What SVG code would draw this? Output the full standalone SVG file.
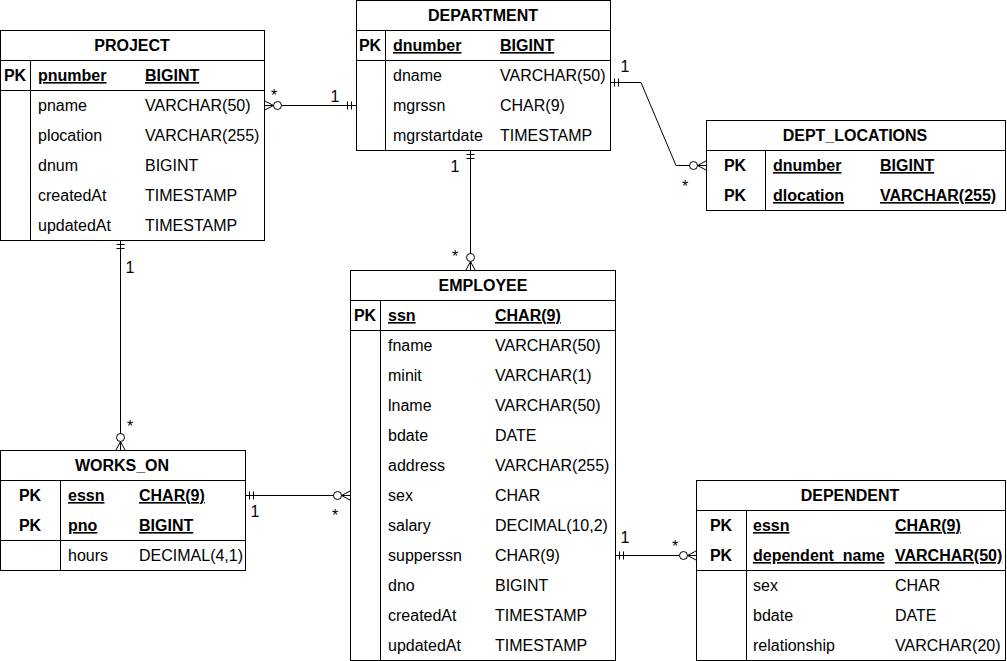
<svg xmlns="http://www.w3.org/2000/svg" width="1007" height="661" viewBox="0 0 1007 661">
<style>
.box{fill:#fff;stroke:#000;stroke-width:1}
.ln{stroke:#000;stroke-width:1;fill:none}
.t{font-family:"Liberation Sans",Arial,sans-serif;font-size:16px;fill:#000}
.b{font-weight:bold}
.h{font-weight:bold;text-anchor:middle}
.c{text-anchor:middle}
.u{text-decoration:underline}
.conn{stroke:#000;stroke-width:1;fill:none;marker-start:url(#one);marker-end:url(#many)}
</style>
<defs>
<marker id="many" markerUnits="userSpaceOnUse" orient="auto-start-reverse" refX="0" refY="0" markerWidth="30" markerHeight="30" viewBox="-20 -10 30 20" overflow="visible">
<path d="M0,-4.5 L-8.5,0 L0,4.5 M0,0 L-8.5,0" fill="none" stroke="#000" stroke-width="1"/>
<circle cx="-12.5" cy="0" r="4" fill="#fff" stroke="#000" stroke-width="1"/>
</marker>
<marker id="one" markerUnits="userSpaceOnUse" orient="auto-start-reverse" refX="0" refY="0" markerWidth="30" markerHeight="30" viewBox="-20 -10 30 20" overflow="visible">
<path d="M-4.5,-4 V4 M-8.5,-4 V4" fill="none" stroke="#000" stroke-width="1"/>
</marker>
</defs>
<rect width="1007" height="661" fill="#fff"/>

<g id="connectors">
<path class="conn" d="M356,105.5 H265"/>
<path class="conn" d="M610,82.5 H641 L676,165.5 H706"/>
<path class="conn" d="M470.5,150 V270"/>
<path class="conn" d="M120.5,240 V450"/>
<path class="conn" d="M245,495.5 H350"/>
<path class="conn" d="M615,555.5 H696"/>
<g class="t">
<text x="271" y="101">*</text><text x="330.5" y="102">1</text>
<text x="620.5" y="72">1</text><text x="682" y="192">*</text>
<text x="450.5" y="172">1</text><text x="452" y="262">*</text>
<text x="125.5" y="273">1</text><text x="127" y="432">*</text>
<text x="250.5" y="517">1</text><text x="332" y="521">*</text>
<text x="620.5" y="543">1</text><text x="672" y="552">*</text>
</g>
</g>

<g id="project">
<rect class="box" x="0.5" y="30.5" width="264" height="210"/>
<path class="ln" d="M0,60.5 H265 M0,90.5 H265 M30.5,60 V240"/>
<g class="t">
<text class="h" x="132" y="51">PROJECT</text>
<text class="b c" x="15" y="81">PK</text>
<text class="b u" x="38" y="81">pnumber</text><text class="b u" x="145" y="81">BIGINT</text>
<text x="38" y="111">pname</text><text x="145" y="111">VARCHAR(50)</text>
<text x="38" y="141">plocation</text><text x="145" y="141">VARCHAR(255)</text>
<text x="38" y="171">dnum</text><text x="145" y="171">BIGINT</text>
<text x="38" y="201">createdAt</text><text x="145" y="201">TIMESTAMP</text>
<text x="38" y="231">updatedAt</text><text x="145" y="231">TIMESTAMP</text>
</g>
</g>

<g id="department">
<rect class="box" x="356.5" y="0.5" width="254" height="150"/>
<path class="ln" d="M356,30.5 H611 M356,60.5 H611 M385.5,30 V150"/>
<g class="t">
<text class="h" x="483" y="21">DEPARTMENT</text>
<text class="b c" x="370" y="51">PK</text>
<text class="b u" x="393" y="51">dnumber</text><text class="b u" x="500" y="51">BIGINT</text>
<text x="393" y="81">dname</text><text x="500" y="81">VARCHAR(50)</text>
<text x="393" y="111">mgrssn</text><text x="500" y="111">CHAR(9)</text>
<text x="393" y="141">mgrstartdate</text><text x="500" y="141">TIMESTAMP</text>
</g>
</g>

<g id="dept_locations">
<rect class="box" x="706.5" y="120.5" width="299" height="90"/>
<path class="ln" d="M706,150.5 H1006 M765.5,150 V210"/>
<g class="t">
<text class="h" x="855" y="141">DEPT_LOCATIONS</text>
<text class="b c" x="735" y="171">PK</text>
<text class="b u" x="773" y="171">dnumber</text><text class="b u" x="880" y="171">BIGINT</text>
<text class="b c" x="735" y="201">PK</text>
<text class="b u" x="773" y="201">dlocation</text><text class="b u" x="880" y="201">VARCHAR(255)</text>
</g>
</g>

<g id="employee">
<rect class="box" x="350.5" y="270.5" width="265" height="390"/>
<path class="ln" d="M350,300.5 H616 M350,330.5 H616 M380.5,300 V660"/>
<g class="t">
<text class="h" x="483" y="291">EMPLOYEE</text>
<text class="b c" x="365" y="321">PK</text>
<text class="b u" x="388" y="321">ssn</text><text class="b u" x="495" y="321">CHAR(9)</text>
<text x="388" y="351">fname</text><text x="495" y="351">VARCHAR(50)</text>
<text x="388" y="381">minit</text><text x="495" y="381">VARCHAR(1)</text>
<text x="388" y="411">lname</text><text x="495" y="411">VARCHAR(50)</text>
<text x="388" y="441">bdate</text><text x="495" y="441">DATE</text>
<text x="388" y="471">address</text><text x="495" y="471">VARCHAR(255)</text>
<text x="388" y="501">sex</text><text x="495" y="501">CHAR</text>
<text x="388" y="531">salary</text><text x="495" y="531">DECIMAL(10,2)</text>
<text x="388" y="561">supperssn</text><text x="495" y="561">CHAR(9)</text>
<text x="388" y="591">dno</text><text x="495" y="591">BIGINT</text>
<text x="388" y="621">createdAt</text><text x="495" y="621">TIMESTAMP</text>
<text x="388" y="651">updatedAt</text><text x="495" y="651">TIMESTAMP</text>
</g>
</g>

<g id="works_on">
<rect class="box" x="0.5" y="450.5" width="245" height="120"/>
<path class="ln" d="M0,480.5 H246 M0,540.5 H246 M60.5,480 V570"/>
<g class="t">
<text class="h" x="122" y="471">WORKS_ON</text>
<text class="b c" x="30" y="501">PK</text>
<text class="b u" x="68" y="501">essn</text><text class="b u" x="139" y="501">CHAR(9)</text>
<text class="b c" x="30" y="531">PK</text>
<text class="b u" x="68" y="531">pno</text><text class="b u" x="139" y="531">BIGINT</text>
<text x="68" y="561">hours</text><text x="139" y="561">DECIMAL(4,1)</text>
</g>
</g>

<g id="dependent">
<rect class="box" x="696.5" y="480.5" width="309" height="180"/>
<path class="ln" d="M696,510.5 H1006 M696,570.5 H1006 M746.5,510 V660"/>
<g class="t">
<text class="h" x="850" y="501">DEPENDENT</text>
<text class="b c" x="721" y="531">PK</text>
<text class="b u" x="753" y="531">essn</text><text class="b u" x="895" y="531">CHAR(9)</text>
<text class="b c" x="721" y="561">PK</text>
<text class="b u" x="753" y="561">dependent_name</text><text class="b u" x="895" y="561">VARCHAR(50)</text>
<text x="753" y="591">sex</text><text x="895" y="591">CHAR</text>
<text x="753" y="621">bdate</text><text x="895" y="621">DATE</text>
<text x="753" y="651">relationship</text><text x="895" y="651">VARCHAR(20)</text>
</g>
</g>
</svg>
